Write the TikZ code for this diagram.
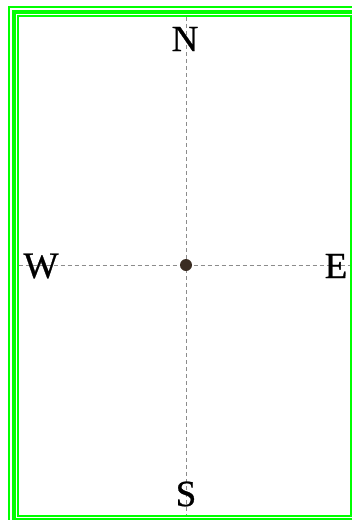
\documentclass[tikz,border=0pt]{standalone}
\usepackage{fontspec}
\setmainfont{Liberation Serif}
\newfontfamily\compassfont{Liberation Serif}[FakeBold=0.7]
\definecolor{framegreen}{HTML}{00FF00}
\definecolor{dotbrown}{HTML}{3A2C22}
\definecolor{axisgray}{HTML}{8C8C8C}
\tikzset{
  thinframe/.style={draw=framegreen, line width=2pt},
  thickframe/.style={draw=framegreen, line width=4pt},
  axis/.style={draw=axisgray, line width=0.8pt, dash pattern=on 4pt off 3pt},
  compass/.style={font=\compassfont\fontsize{37}{37}\selectfont, inner sep=0pt, fill=white},
  centerdot/.style={circle, fill=dotbrown, minimum size=12pt, inner sep=0pt}
}
\begin{document}
\begin{tikzpicture}[x=1pt, y=-1pt]
\useasboundingbox (0,0) rectangle (352,520);
\begin{scope}
\clip (0,0) rectangle (352,520);
\fill[white] (0,0) rectangle (352,520);
\draw[thinframe] (8.5,7) rectangle (359.5,524);
\draw[thickframe] (13.5,12) rectangle (355.5,519.8);
\draw[thinframe] (17.5,16) rectangle (351,515.5);
\end{scope}
\coordinate (top) at (186,17);
\coordinate (bottom) at (186,514.5);
\coordinate (left) at (18.5,265);
\coordinate (right) at (350,265);
\draw[axis] (top) -- (bottom);
\draw[axis] (left) -- (right);
\node[compass, fill=none] (N) at (185,39) {N};
\node[compass, fill=none] (S) at (186,494) {S};
\node[compass, fill=none] (W) at (41,266) {W};
\node[compass, fill=none] (E) at (336,266) {E};
\node[centerdot] (C) at (186,265) {};
\end{tikzpicture}
\end{document}
